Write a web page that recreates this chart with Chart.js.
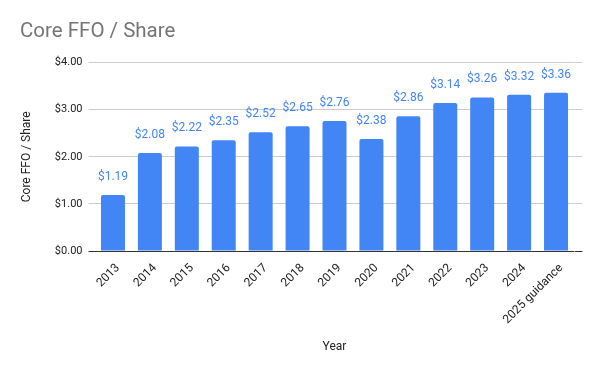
<!DOCTYPE html>
<html>
<head>
<meta charset="utf-8">
<script src="https://cdn.jsdelivr.net/npm/chart.js@4/dist/chart.umd.min.js"></script>
<style>
html,body{margin:0;padding:0;background:#fff;}
#wrap{width:600px;height:371px;position:relative;}
</style>
</head>
<body>
<div id="wrap"><canvas id="c" width="600" height="371"></canvas></div>
<script>
const categories = ["2013","2014","2015","2016","2017","2018","2019","2020","2021","2022","2023","2024","2025 guidance"];
const coreFfoPerShare = [1.19, 2.08, 2.22, 2.35, 2.52, 2.65, 2.76, 2.38, 2.86, 3.14, 3.26, 3.32, 3.36];
const yTicks = [0, 1, 2, 3, 4];

const money = v => '$' + v.toFixed(2);
const FONT = 'Roboto, "Liberation Sans", Arial, sans-serif';

const labelPlugin = {
  id: 'barLabels',
  afterDatasetsDraw(chart) {
    const ctx = chart.ctx;
    const meta = chart.getDatasetMeta(0);
    ctx.save();
    ctx.font = '12px ' + FONT;
    ctx.fillStyle = '#4285F4';
    ctx.textAlign = 'center';
    ctx.textBaseline = 'alphabetic';
    meta.data.forEach((bar, i) => {
      ctx.fillText(money(coreFfoPerShare[i]), bar.x, bar.y - 15);
    });
    ctx.restore();
  }
};

const gridColor = c => (c.tick && c.tick.value === 0) ? '#333333' : '#cccccc';

new Chart(document.getElementById('c'), {
  type: 'bar',
  data: {
    labels: categories,
    datasets: [{
      data: coreFfoPerShare,
      backgroundColor: '#4285F4',
      borderRadius: {topLeft: 2, topRight: 2, bottomLeft: 0, bottomRight: 0},
      borderSkipped: 'bottom',
      barPercentage: 0.65,
      categoryPercentage: 1.0
    }]
  },
  options: {
    responsive: false,
    animation: false,
    devicePixelRatio: 1,
    layout: {padding: {left: 20, right: 18, top: 0, bottom: 0}},
    plugins: {
      legend: {display: false},
      tooltip: {enabled: false},
      title: {
        display: true,
        text: 'Core FFO / Share',
        align: 'start',
        color: '#757575',
        font: {family: FONT, size: 20.5, weight: 'normal'},
        padding: {top: 20, bottom: 18}
      }
    },
    scales: {
      x: {
        grid: {display: false},
        border: {display: false},
        ticks: {
          color: '#222222',
          font: {family: FONT, size: 12},
          minRotation: 45, maxRotation: 45,
          autoSkip: false,
          padding: 2,
          labelOffset: 5
        },
        title: {
          display: true,
          text: 'Year',
          color: '#222222',
          font: {family: FONT, size: 12},
          padding: {top: 0, bottom: 17}
        },
        afterFit(s) { s.height = 120; }
      },
      y: {
        min: 0, max: 4,
        afterBuildTicks(s) { s.ticks = yTicks.map(v => ({value: v})); },
        grid: {color: gridColor, tickColor: gridColor, tickLength: 6, drawTicks: true},
        border: {display: false},
        ticks: {
          color: '#222222',
          font: {family: FONT, size: 11},
          padding: 6,
          callback: v => money(v)
        },
        title: {
          display: true,
          text: 'Core FFO / Share',
          color: '#222222',
          font: {family: FONT, size: 12},
          padding: {top: 0, bottom: 0}
        },
        afterFit(s) { s.width = 74.5; }
      },
      y2: {
        position: 'right',
        min: 0, max: 4,
        afterBuildTicks(s) { s.ticks = yTicks.map(v => ({value: v})); },
        grid: {drawOnChartArea: false, color: gridColor, tickColor: gridColor, tickLength: 8},
        border: {display: false},
        ticks: {display: false},
        afterFit(s) { s.width = 7.5; }
      }
    }
  },
  plugins: [labelPlugin]
});
</script>
</body>
</html>
